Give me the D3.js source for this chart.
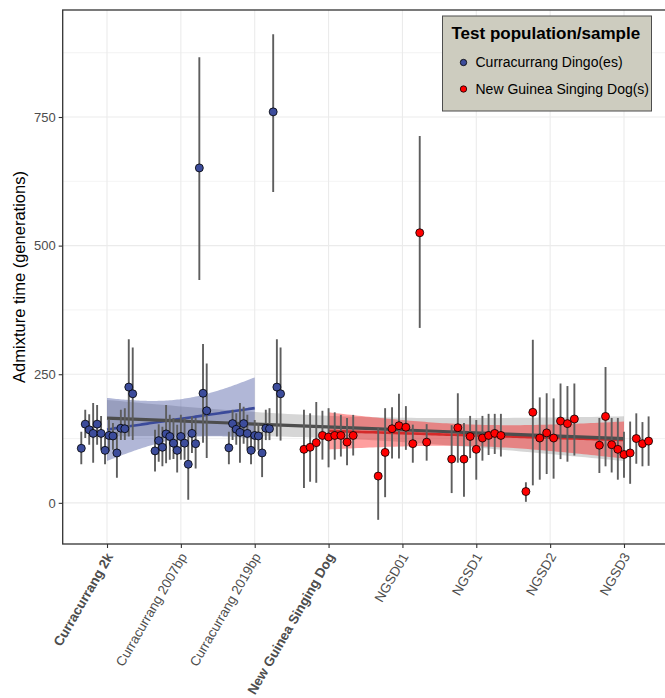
<!DOCTYPE html>
<html>
<head>
<meta charset="utf-8">
<script src="https://cdn.jsdelivr.net/npm/d3@7"></script>
<style>
  html, body { margin: 0; padding: 0; background: #ffffff; }
  svg { display: block; font-family: "Liberation Sans", Arial, Helvetica, sans-serif; }
</style>
</head>
<body>
<svg id="chart" width="665" height="698"></svg>
<script>
// ---------------- data ----------------
const categories = ["Curracurrang 2k", "Curracurrang 2007bp", "Curracurrang 2019bp",
  "New Guinea Singing Dog", "NGSD01", "NGSD1", "NGSD2", "NGSD3"];
const boldCategories = ["Curracurrang 2k", "New Guinea Singing Dog"];
const categoryPopulation = ["dingo", "dingo", "dingo", "ngsd", "ngsd", "ngsd", "ngsd", "ngsd"];
const populations = ["dingo", "ngsd"];
const populationLabels = ["Curracurrang Dingo(es)", "New Guinea Singing Dog(s)"];
const yTicks = [0, 250, 500, 750];
const yMinorTicks = [125, 375, 625, 875];

// admixture time estimates per test sample, grouped by category (index into categories)
const sampleCategory = [
  0,0,0,0,0,0,0,0,0,0,0,0,0,0,
  1,1,1,1,1,1,1,1,1,1,1,1,1,1,1,
  2,2,2,2,2,2,2,2,2,2,2,2,2,2,2,
  3,3,3,3,3,3,3,3,3,
  4,4,4,4,4,4,4,4,
  5,5,5,5,5,5,5,5,5,
  6,6,6,6,6,6,6,6,
  7,7,7,7,7,7,7,7,7
];
const admixTime = [
  106,153,142,135,153,135,102,131,130,97,145,144,225,212,
  101,121,108,134,129,116,102,129,116,75,135,115,651,213,179,
  107,154,143,137,154,135,102,131,130,97,145,144,760,225,212,
  104,108,117,131,128,131,131,118,131,
  52,98,144,150,147,115,525,118,
  85,146,85,129,104,126,131,135,131,
  22,176,126,136,126,159,154,163,
  112,168,113,104,94,97,125,115,120
];
const ciLow = [
  75,126,113,78,113,103,75,100,103,49,122,122,129,122,
  61,80,71,77,84,85,59,84,84,6,97,67,433,117,87,
  75,122,113,78,115,103,75,100,103,50,122,122,604,129,121,
  29,41,39,84,69,84,90,73,92,
  -33,11,86,86,103,78,340,82,
  19,78,12,87,45,82,93,95,90,
  2,34,45,56,47,85,80,92,
  58,71,59,45,49,37,76,71,72
];
const ciHigh = [
  138,181,172,194,190,169,129,161,155,137,181,184,318,302,
  142,153,148,190,171,165,152,171,165,129,168,165,866,309,271,
  138,181,174,194,187,171,132,161,155,138,181,184,911,318,302,
  181,174,196,179,184,176,171,165,171,
  146,184,186,212,188,152,713,153,
  151,213,155,169,161,169,173,173,173,
  40,317,205,213,203,232,227,232,
  165,264,165,165,138,158,174,157,168
];

// ---------------- styles ----------------
const popFill = { dingo: "#3c4c9b", ngsd: "#ff0000" };
const popLine = { dingo: "#3b4a9a", ngsd: "#d42a2a" };
const popBand = { dingo: "rgba(60,76,155,0.4)", ngsd: "rgba(255,0,0,0.38)" };

// ---------------- layout ----------------
const svg = d3.select("#chart");
const panel = { left: 62.7, right: 668.3, top: 10, bottom: 544 };

const x = d3.scaleLinear().domain([0.4, categories.length + 0.6]).range([panel.left, panel.right]);
const y = d3.scaleLinear().domain([-80, 958]).range([panel.bottom, panel.top]);

// build records with dodge positions
const counts = d3.rollup(sampleCategory, v => v.length, d => d);
const seen = new Map();
const records = admixTime.map((v, i) => {
  const c = sampleCategory[i];
  const k = seen.get(c) || 0; seen.set(c, k + 1);
  const n = counts.get(c);
  const dodge = 0.75;
  const pos = (c + 1) - dodge / 2 + (k + 0.5) * dodge / n;
  return { cat: c + 1, pos, v, lo: ciLow[i], hi: ciHigh[i], pop: categoryPopulation[c] };
});

// clip
svg.append("defs").append("clipPath").attr("id", "clip")
  .append("rect").attr("x", panel.left).attr("y", panel.top)
  .attr("width", panel.right - panel.left).attr("height", panel.bottom - panel.top);

const g = svg.append("g").attr("clip-path", "url(#clip)");

// grid
g.selectAll(".ygm").data(yMinorTicks).join("line")
  .attr("x1", panel.left).attr("x2", panel.right)
  .attr("y1", d => y(d)).attr("y2", d => y(d))
  .attr("stroke", "#ebebeb").attr("stroke-width", 0.6);
g.selectAll(".yg").data(yTicks).join("line")
  .attr("x1", panel.left).attr("x2", panel.right)
  .attr("y1", d => y(d)).attr("y2", d => y(d))
  .attr("stroke", "#ebebeb").attr("stroke-width", 1.1);
g.selectAll(".xg").data(categories).join("line")
  .attr("x1", (d, i) => x(i + 1)).attr("x2", (d, i) => x(i + 1))
  .attr("y1", panel.top).attr("y2", panel.bottom)
  .attr("stroke", "#ebebeb").attr("stroke-width", 1.1);

// linear regression with 95% CI
function tQuantile(df) {
  const z = 1.959964;
  return z + (z ** 3 + z) / (4 * df) + (5 * z ** 5 + 16 * z ** 3 + 3 * z) / (96 * df * df)
    + (3 * z ** 7 + 19 * z ** 5 + 17 * z ** 3 - 15 * z) / (384 * df ** 3);
}
function lmFit(recs) {
  const xs = recs.map(r => r.cat), ys = recs.map(r => r.v);
  const n = xs.length;
  const mx = d3.mean(xs), my = d3.mean(ys);
  let sxx = 0, sxy = 0;
  for (let i = 0; i < n; i++) { sxx += (xs[i] - mx) ** 2; sxy += (xs[i] - mx) * (ys[i] - my); }
  const b = sxy / sxx, a = my - b * mx;
  let sse = 0;
  for (let i = 0; i < n; i++) sse += (ys[i] - a - b * xs[i]) ** 2;
  const s = Math.sqrt(sse / (n - 2));
  const t = tQuantile(n - 2);
  const [x0, x1] = d3.extent(xs);
  const pts = d3.range(81).map(j => {
    const xv = x0 + (x1 - x0) * j / 80;
    const yh = a + b * xv;
    const se = s * Math.sqrt(1 / n + (xv - mx) ** 2 / sxx);
    return { x: xv, y: yh, lo: yh - t * se, hi: yh + t * se };
  });
  return pts;
}

const fits = [
  { key: "all", pts: lmFit(records), band: "rgba(153,153,153,0.4)", line: "#4d4d4d", w: 3.2 },
  { key: "dingo", pts: lmFit(records.filter(r => r.pop === "dingo")), band: popBand.dingo, line: popLine.dingo, w: 2.6 },
  { key: "ngsd", pts: lmFit(records.filter(r => r.pop === "ngsd")), band: popBand.ngsd, line: popLine.ngsd, w: 2.6 }
];

const area = d3.area().x(d => x(d.x)).y0(d => y(d.lo)).y1(d => y(d.hi));
const line = d3.line().x(d => x(d.x)).y(d => y(d.y));

fits.forEach(f => {
  g.append("path").attr("d", area(f.pts)).attr("fill", f.band).attr("stroke", "none");
});
[fits[1], fits[2], fits[0]].forEach(f => {
  g.append("path").attr("d", line(f.pts)).attr("fill", "none")
    .attr("stroke", f.line).attr("stroke-width", f.w);
});

// error bars
g.selectAll(".err").data(records).join("line")
  .attr("x1", d => x(d.pos)).attr("x2", d => x(d.pos))
  .attr("y1", d => y(d.lo)).attr("y2", d => y(d.hi))
  .attr("stroke", "#5e5e5e").attr("stroke-width", 1.9);

// points
g.selectAll(".pt").data(records).join("circle")
  .attr("cx", d => x(d.pos)).attr("cy", d => y(d.v)).attr("r", 4)
  .attr("fill", d => popFill[d.pop]).attr("stroke", "#000").attr("stroke-width", 0.8);

// panel border
svg.append("rect").attr("x", panel.left).attr("y", panel.top)
  .attr("width", panel.right - panel.left).attr("height", panel.bottom - panel.top)
  .attr("fill", "none").attr("stroke", "#333333").attr("stroke-width", 1.3);

// y axis
const yAxis = svg.append("g").attr("transform", `translate(${panel.left},0)`)
  .call(d3.axisLeft(y).tickValues(yTicks).tickSize(4).tickPadding(3));
yAxis.select(".domain").remove();
yAxis.selectAll(".tick line").attr("stroke", "#333").attr("stroke-width", 1.1);
yAxis.selectAll(".tick text").attr("fill", "#4d4d4d").style("font-size", "13px")
  .style("font-family", "'Liberation Sans', Arial, sans-serif");

// x axis
const xAxis = svg.append("g").attr("transform", `translate(0,${panel.bottom})`)
  .call(d3.axisBottom(x).tickValues(d3.range(1, categories.length + 1)).tickSize(4)
    .tickFormat(d => categories[d - 1]));
xAxis.select(".domain").remove();
xAxis.selectAll(".tick line").attr("stroke", "#333").attr("stroke-width", 1.1);
xAxis.selectAll(".tick text")
  .attr("fill", "#4d4d4d").style("font-size", "13.5px")
  .style("font-family", "'Liberation Sans', Arial, sans-serif")
  .style("font-weight", d => boldCategories.includes(categories[d - 1]) ? "bold" : "normal")
  .attr("text-anchor", "end")
  .attr("x", 0).attr("y", 0).attr("dy", "0.35em")
  .attr("transform", "translate(2,10) rotate(-60)");

// y title
svg.append("text")
  .attr("transform", `translate(25,${(panel.top + panel.bottom) / 2}) rotate(-90)`)
  .attr("text-anchor", "middle")
  .style("font-size", "16.5px").attr("fill", "#000")
  .text("Admixture time (generations)");

// legend
const lg = svg.append("g").attr("transform", "translate(442.5,16)");
lg.append("rect").attr("width", 209).attr("height", 95)
  .attr("fill", "#cdccbf").attr("stroke", "#4d4d4d").attr("stroke-width", 1);
lg.append("text").attr("x", 9).attr("y", 22.5)
  .style("font-size", "17px").style("font-weight", "bold").attr("fill", "#000")
  .text("Test population/sample");
const items = lg.selectAll(".li").data(populations).join("g")
  .attr("transform", (d, i) => `translate(21,${46.5 + i * 26.5})`);
items.append("circle").attr("r", 3.2).attr("fill", d => popFill[d])
  .attr("stroke", "#000").attr("stroke-width", 0.8);
items.append("text").attr("x", 12).attr("y", 0).attr("dy", "0.35em")
  .style("font-size", "14px").attr("fill", "#000")
  .text((d, i) => populationLabels[i]);
</script>
</body>
</html>
